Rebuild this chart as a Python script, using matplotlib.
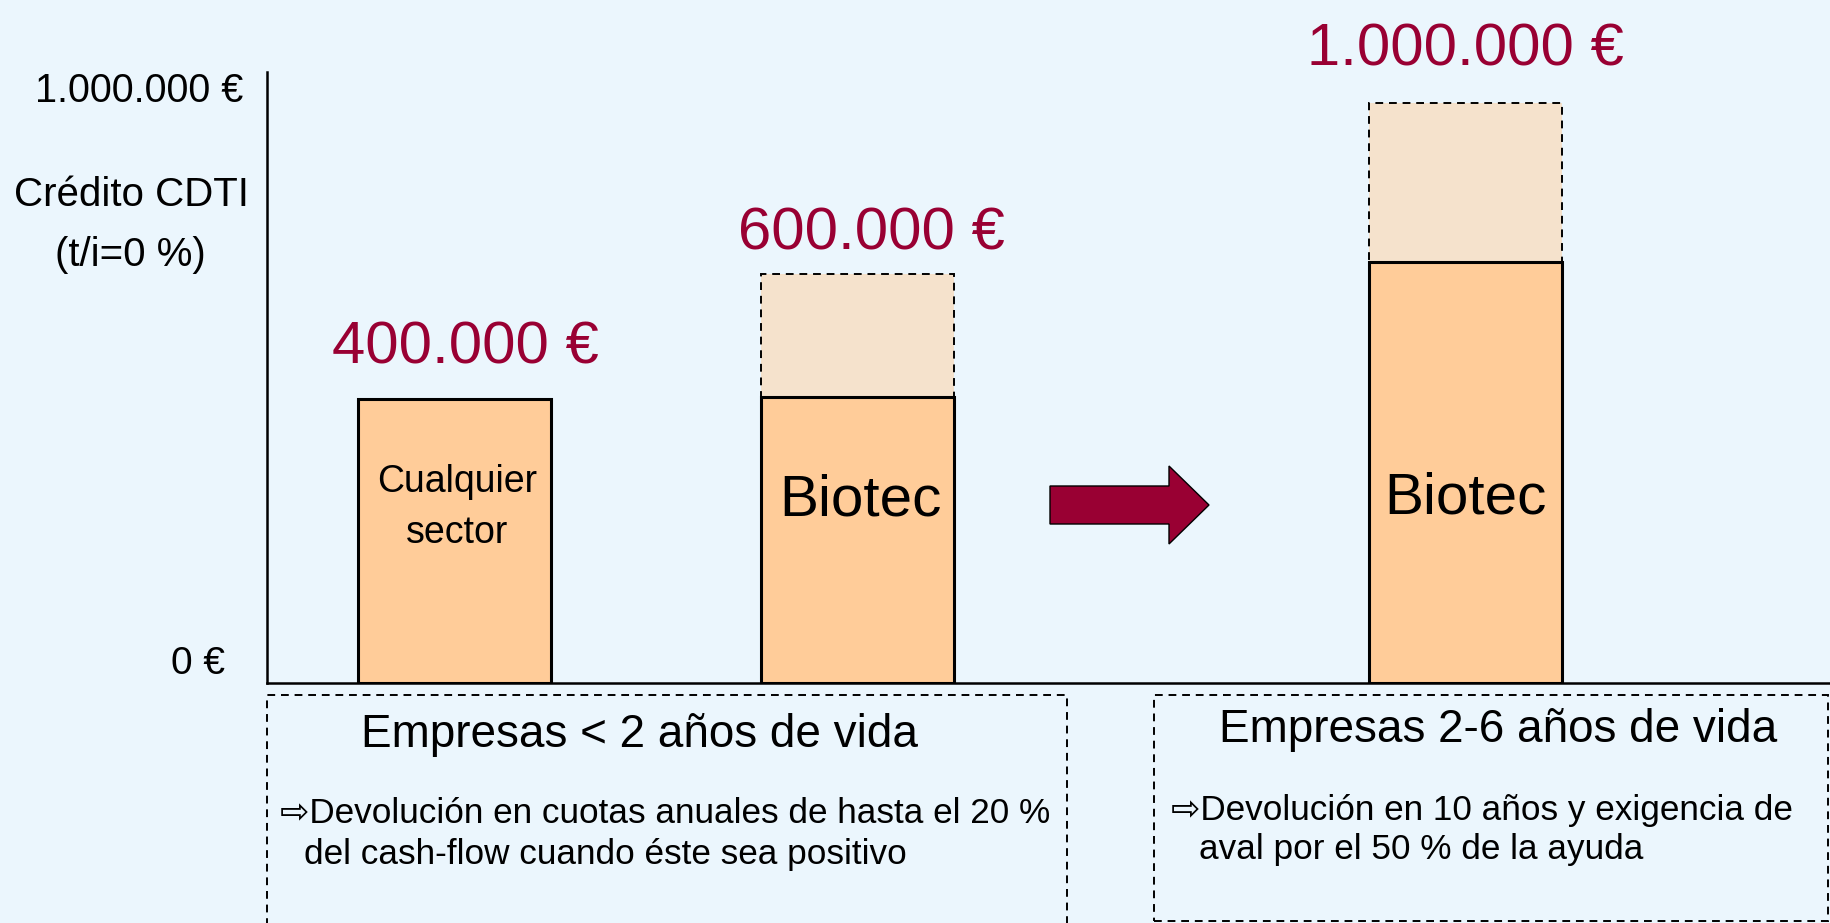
import matplotlib.pyplot as plt
import matplotlib.patches as mpatches

# datos (alturas tal como se dibujan en el esquema, escala del eje 0 - 1.000.000)
labels_importe = ['400.000 €', '600.000 €', '1.000.000 €']
labels_barra = ['Cualquier\nsector', 'Biotec', 'Biotec']
altura_base = [465000, 468000, 689000]
altura_total = [465000, 669000, 949000]
pos_x = [0.97, 3.06, 6.21]

titulos = ['Empresas < 2 años de vida', 'Empresas 2-6 años de vida']
lineas_1 = ['⇨Devolución en cuotas anuales de hasta el 20 %', 'del cash-flow cuando éste sea positivo']
lineas_2 = ['⇨Devolución en 10 años y exigencia de', 'aval por el 50 % de la ayuda']

W, H = 1831, 923
fondo = '#ebf6fd'
naranja = '#ffcc99'
naranja_claro = '#f5e2cc'
granate = '#990033'
plt.rcParams['font.family'] = ['Liberation Sans', 'DejaVu Sans']


def fx(px):
    return px / W


def fy(py):
    return 1 - py / H


fig = plt.figure(figsize=(W / 100, H / 100), dpi=100, facecolor=fondo)
ax = fig.add_axes([fx(267), fy(683), fx(W - 267), (683 - 72) / H])
ax.set_facecolor(fondo)

extra = [t - b for t, b in zip(altura_total, altura_base)]
ax.bar(pos_x, altura_base, width=1.0, color=naranja, edgecolor='black', linewidth=2.2, zorder=3)
ax.bar(pos_x, extra, width=1.0, bottom=altura_base, color=naranja_claro, edgecolor='black',
       linewidth=1.4, linestyle=(0, (4, 3)), zorder=2)

ax.set_xlim(0, (W - 267) / 193)
ax.set_ylim(0, 1000000)
ax.set_xticks([])
ax.set_yticks([])
for s in ['top', 'right']:
    ax.spines[s].set_visible(False)
ax.spines['left'].set_linewidth(1.8)
ax.spines['bottom'].set_linewidth(1.8)

# importes encima de las barras
base_txt = [363, 249, 66]
cx = [465, 871, 1465]
for lab, b, x in zip(labels_importe, base_txt, cx):
    fig.text(fx(x), fy(b), lab, color=granate, fontsize=43, ha='center', va='baseline')

# texto dentro de las barras
fig.text(fx(457), fy(492), 'Cualquier', fontsize=27, ha='center', va='baseline')
fig.text(fx(457), fy(543), 'sector', fontsize=27, ha='center', va='baseline')
fig.text(fx(860), fy(515), labels_barra[1], fontsize=42, ha='center', va='baseline')
fig.text(fx(1465), fy(513), labels_barra[2], fontsize=42, ha='center', va='baseline')

# eje y
fig.text(fx(243), fy(102), '1.000.000 €', fontsize=28.5, ha='right', va='baseline')
fig.text(fx(225), fy(674), '0 €', fontsize=28, ha='right', va='baseline')
fig.text(fx(131), fy(206), 'Crédito CDTI', fontsize=29, ha='center', va='baseline')
fig.text(fx(130), fy(266), '(t/i=0 %)', fontsize=29, ha='center', va='baseline')

# flecha
flecha = mpatches.Polygon([(fx(1050), fy(486)), (fx(1169), fy(486)), (fx(1169), fy(466)),
                           (fx(1209), fy(505)), (fx(1169), fy(544)), (fx(1169), fy(524)),
                           (fx(1050), fy(524))], closed=True, transform=fig.transFigure,
                          facecolor=granate, edgecolor='black', linewidth=1)
fig.patches.append(flecha)

# cajas inferiores
caja1 = mpatches.Rectangle((fx(267), fy(940)), fx(1067 - 267), (940 - 695) / H,
                           transform=fig.transFigure, fill=False, edgecolor='black',
                           linewidth=1.4, linestyle=(0, (4, 3)))
caja2 = mpatches.Rectangle((fx(1154), fy(921)), fx(1828 - 1154), (921 - 695) / H,
                           transform=fig.transFigure, fill=False, edgecolor='black',
                           linewidth=1.4, linestyle=(0, (4, 3)))
fig.patches.extend([caja1, caja2])

fig.text(fx(640), fy(747), titulos[0], fontsize=33, ha='center', va='baseline')
fig.text(fx(280), fy(823), lineas_1[0], fontsize=25.3, ha='left', va='baseline')
fig.text(fx(304), fy(864), lineas_1[1], fontsize=25.3, ha='left', va='baseline')

fig.text(fx(1498), fy(742), titulos[1], fontsize=33, ha='center', va='baseline')
fig.text(fx(1171), fy(820), lineas_2[0], fontsize=25.3, ha='left', va='baseline')
fig.text(fx(1199), fy(859), lineas_2[1], fontsize=25.3, ha='left', va='baseline')

fig.savefig('out.png', dpi=100, facecolor=fondo)
